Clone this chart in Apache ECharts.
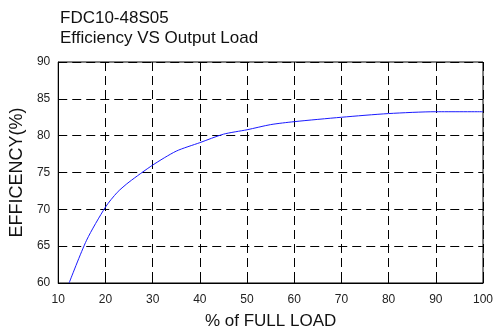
<!DOCTYPE html>
<html>
<head>
<meta charset="utf-8">
<script src="https://cdn.jsdelivr.net/npm/echarts@6/dist/echarts.min.js"></script>
<style>html,body{margin:0;padding:0;background:#fff;}#c{width:497px;height:336px;}</style>
</head>
<body>
<div id="c"></div>
<script>
var titleLines = ['FDC10-48S05', 'Efficiency VS Output Load'];
var xName = '% of FULL LOAD';
var yName = 'EFFICENCY(%)';
var loadPct = [12.3, 16, 20, 22.5, 25, 30, 35, 40, 45, 50, 55, 60, 70, 80, 90, 100];
var efficiency = [60, 65.8, 70.3, 72.3, 73.7, 76.0, 77.9, 79.05, 80.2, 80.8, 81.5, 81.9, 82.5, 83.0, 83.25, 83.25];

var FONT = "'Liberation Sans', Arial, sans-serif";
var chart = echarts.init(document.getElementById('c'), null, {renderer: 'canvas'});
chart.setOption({
  animation: false,
  backgroundColor: '#fff',
  title: {
    text: titleLines.join('\n'),
    left: 55, top: 3,
    textStyle: {fontFamily: FONT, fontSize: 17, fontWeight: 'normal', color: '#111', lineHeight: 20}
  },
  grid: {left: 57, right: 14, top: 62, bottom: 53, show: true, borderColor: '#000', borderWidth: 1, backgroundColor: 'transparent'},
  xAxis: {
    type: 'value', min: 10, max: 100, interval: 10,
    name: xName, nameLocation: 'middle', nameGap: 30,
    nameTextStyle: {fontFamily: FONT, fontSize: 17, color: '#111'},
    axisLine: {show: true, lineStyle: {color: '#000', width: 1}},
    axisTick: {show: true, inside: true, length: 5, lineStyle: {color: '#000'}},
    axisLabel: {fontFamily: FONT, fontSize: 12, color: '#222', margin: 11},
    splitLine: {show: true, lineStyle: {color: '#000', width: 1, type: [9, 5]}}
  },
  yAxis: {
    type: 'value', min: 60, max: 90, interval: 5,
    name: yName, nameLocation: 'middle', nameGap: 29,
    nameTextStyle: {fontFamily: FONT, fontSize: 18, color: '#111'},
    axisLine: {show: true, lineStyle: {color: '#000', width: 1}},
    axisTick: {show: true, inside: true, length: 5, lineStyle: {color: '#000'}},
    axisLabel: {fontFamily: FONT, fontSize: 12, color: '#222', margin: 8},
    splitLine: {show: true, lineStyle: {color: '#000', width: 1, type: [9, 5]}}
  },
  series: [{
    type: 'line',
    data: loadPct.map(function (x, i) { return [x, efficiency[i]]; }),
    showSymbol: false,
    smooth: 0.25,
    lineStyle: {color: '#1a1aff', width: 1},
    clip: true
  }]
});
</script>
</body>
</html>
